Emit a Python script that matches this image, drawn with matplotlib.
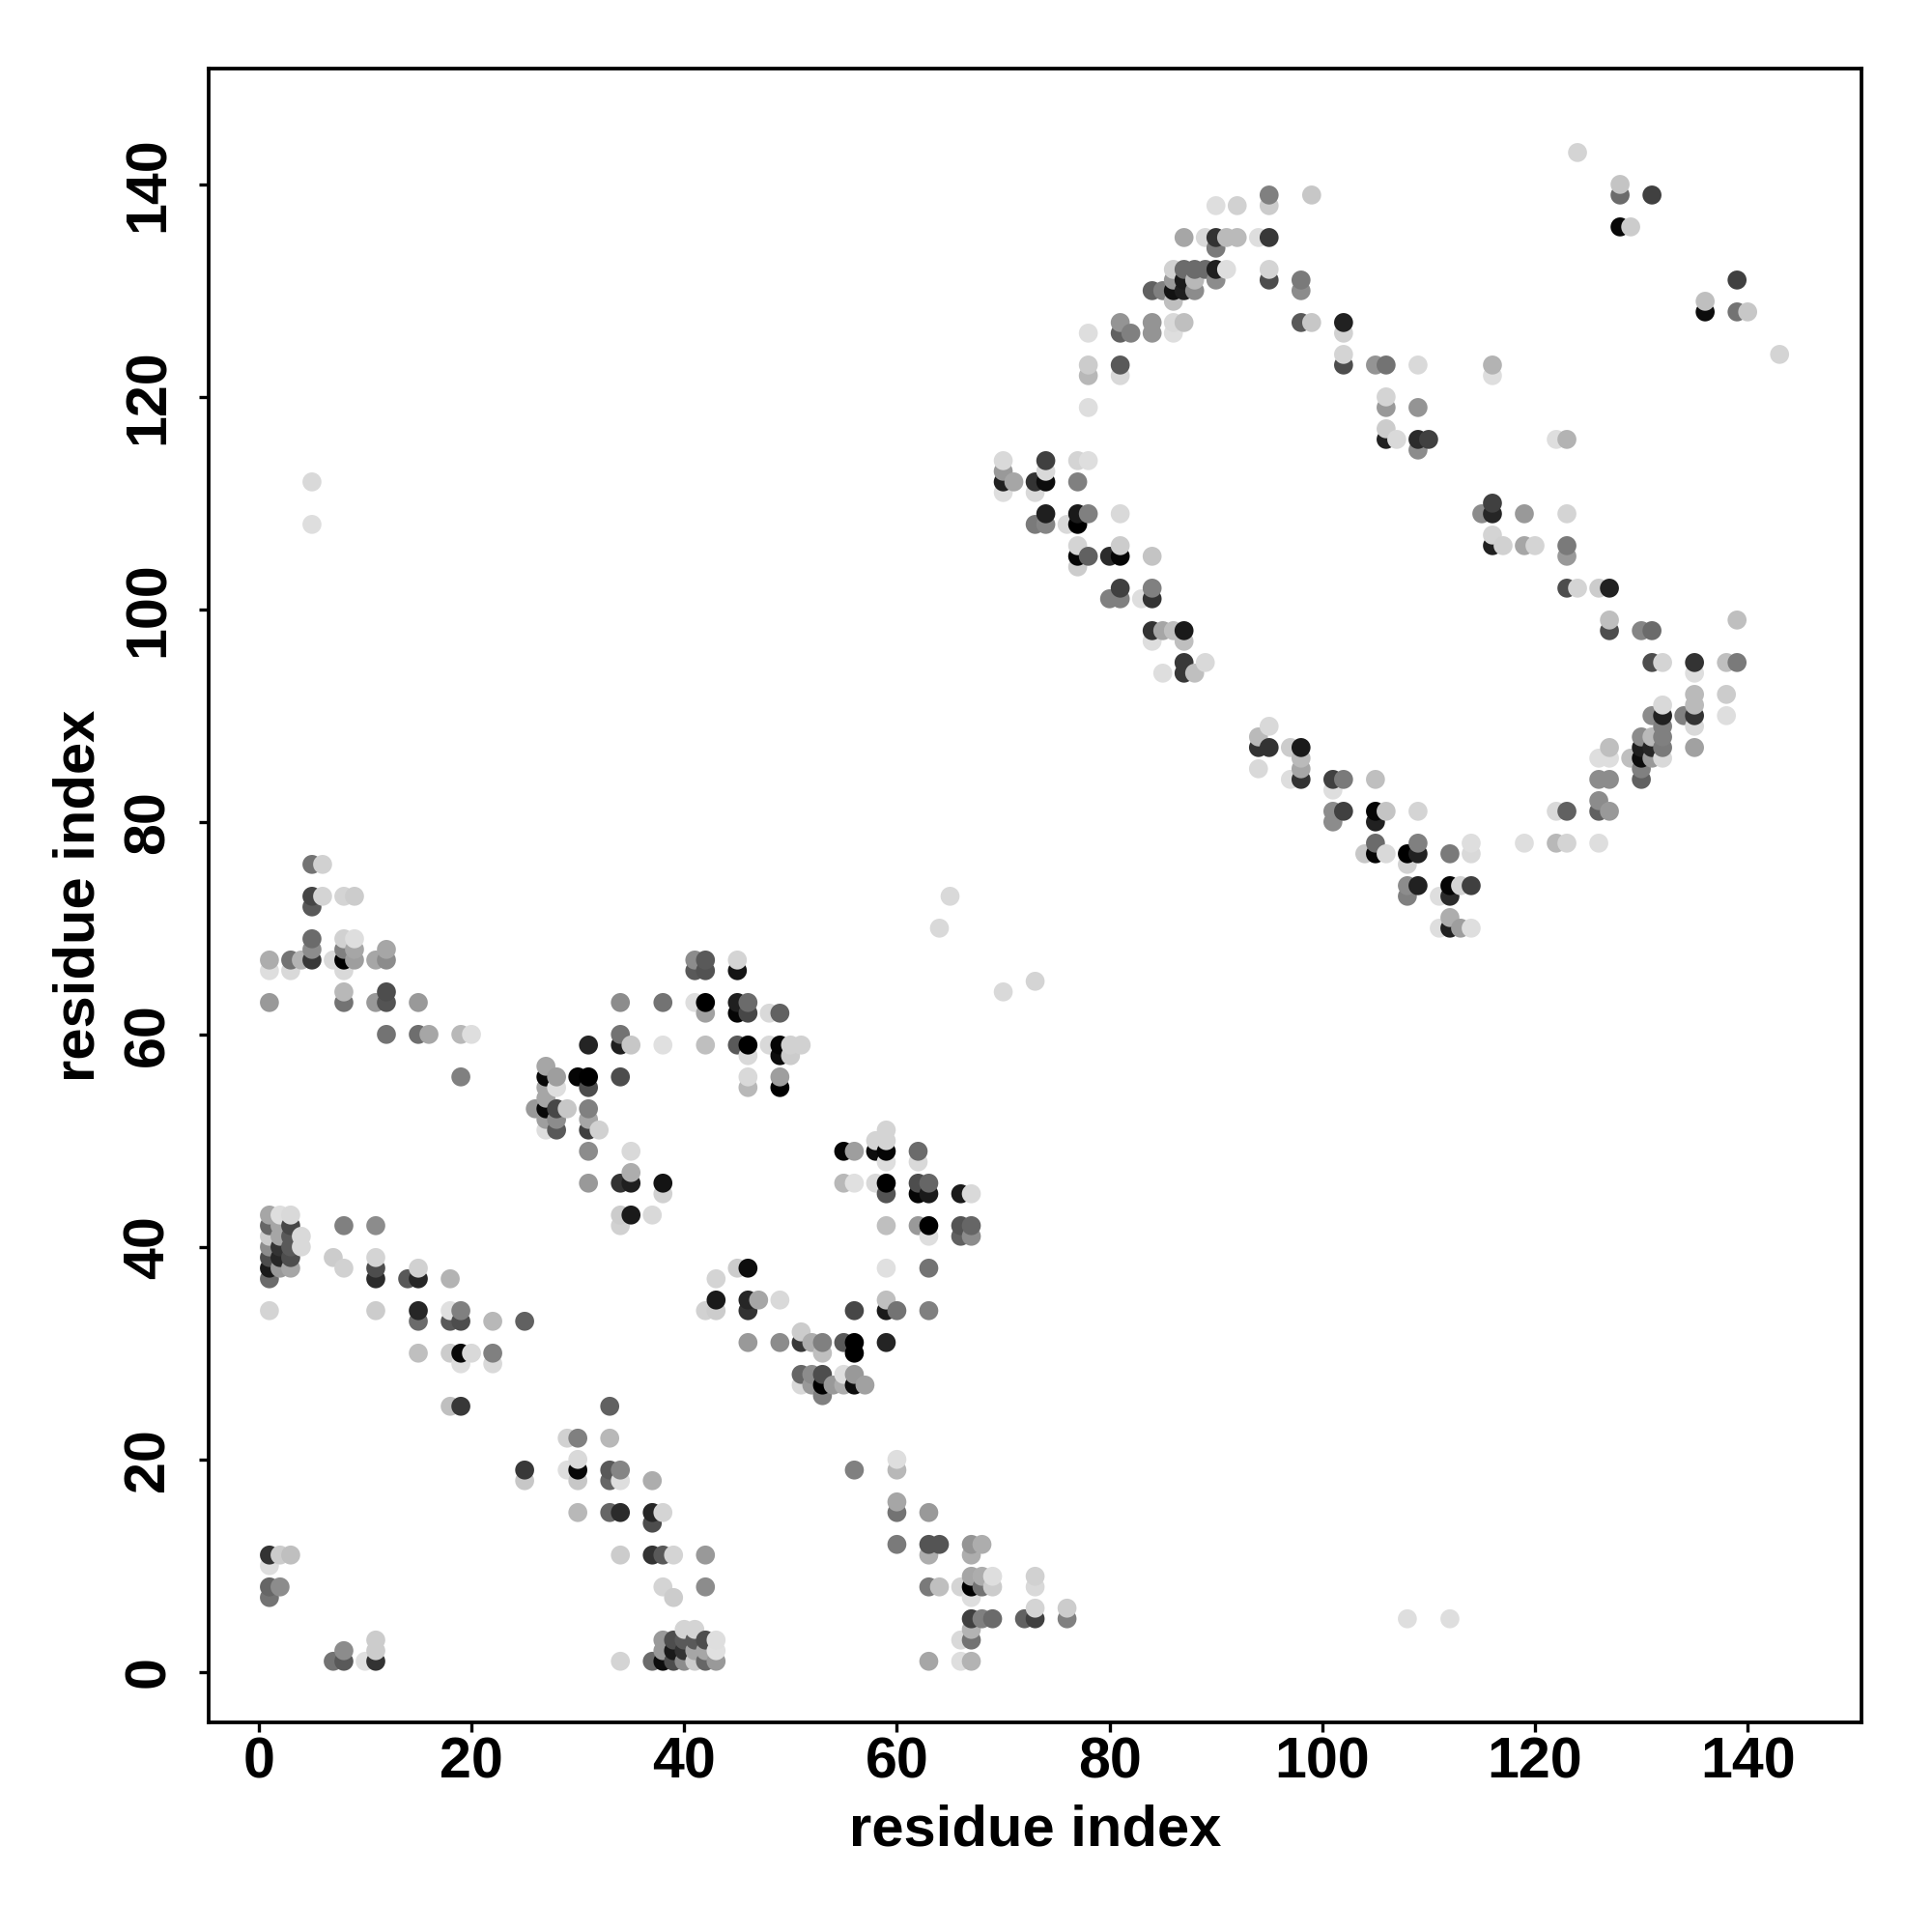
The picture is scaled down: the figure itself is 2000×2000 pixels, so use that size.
import pandas as pd
import matplotlib
matplotlib.use('Agg')
import matplotlib.pyplot as plt

# contacts as (residue x, residue y, grey level)
lower_left = [
    (7,1,.45),(8,1,.35),(10,1,.88),(11,1,.2),(8,2,.55),(11,2,.8),(11,3,.8),
    (1,7,.45),(1,8,.4),(2,8,.55),(1,10,.87),(1,11,.2),(2,11,.8),(3,11,.75),
    (15,30,.75),(18,30,.8),(19,30,.03),(20,30,.85),(22,30,.5),(19,29,.87),(22,29,.85),
    (15,33,.42),(18,33,.35),(19,33,.3),(22,33,.72),(25,33,.38),
    (1,34,.83),(11,34,.8),(15,34,.15),(18,34,.88),(19,34,.5),
    (1,37,.42),(11,37,.17),(14,37,.35),(15,37,.15),(18,37,.7),
    (1,38,.1),(2,38,.6),(3,38,.65),(8,38,.82),(11,38,.3),(15,38,.82),
    (1,39,.3),(2,39,.15),(3,39,.3),(7,39,.8),(11,39,.83),
    (1,40,.55),(2,40,.2),(3,40,.35),(4,40,.85),
    (1,41,.8),(2,41,.65),(3,41,.35),(4,41,.85),
    (1,42,.4),(2,42,.65),(3,42,.28),(8,42,.5),(11,42,.55),
    (1,43,.65),(2,43,.87),(3,43,.85),
    (18,25,.75),(19,25,.22),(25,18,.78),(25,19,.22),
]

lower_mid = [
    (34,1,.83),(37,1,.42),(38,1,.05),(39,1,.3),(40,1,.55),(41,1,.8),(42,1,.4),(43,1,.6),
    (38,2,.6),(39,2,.1),(40,2,.2),(41,2,.65),(42,2,.65),(43,2,.88),
    (38,3,.6),(39,3,.3),(40,3,.35),(41,3,.35),(42,3,.3),(43,3,.87),(40,4,.83),(41,4,.83),
    (39,7,.8),(38,8,.83),(42,8,.55),
    (34,11,.8),(37,11,.2),(38,11,.35),(39,11,.83),(42,11,.6),(37,14,.3),
    (30,15,.72),(33,15,.4),(34,15,.17),(37,15,.15),(38,15,.83),
    (30,18,.78),(33,18,.4),(34,18,.87),(37,18,.68),
    (29,19,.87),(30,19,.03),(33,19,.35),(34,19,.52),(30,20,.85),
    (29,22,.82),(30,22,.5),(33,22,.72),(33,25,.38),
    (51,27,.85),(52,27,.6),(53,27,.0),(54,27,.6),(55,27,.68),(56,27,.05),(57,27,.63),
    (53,26,.5),(51,28,.4),(52,28,.55),(53,28,.3),(55,28,.87),(56,28,.6),
    (53,30,.75),(56,30,.0),(46,31,.6),(49,31,.55),(51,31,.22),(52,31,.68),(53,31,.5),
    (55,31,.35),(56,31,.0),(59,31,.14),(51,32,.8),
    (42,34,.82),(43,34,.8),(46,34,.2),(56,34,.28),(59,34,.1),(60,34,.45),(63,34,.5),
    (43,35,.1),(46,35,.15),(47,35,.65),(49,35,.85),(59,35,.75),(43,37,.83),
    (45,38,.8),(46,38,.05),(59,38,.88),(63,38,.45),
    (63,41,.87),(66,41,.38),(67,41,.55),(59,42,.75),(62,42,.6),(63,42,.0),(66,42,.33),(67,42,.4),
    (34,42,.82),(34,43,.8),(35,43,.1),(37,43,.85),
    (59,45,.33),(62,45,.02),(63,45,.1),(66,45,.1),(67,45,.85),
    (55,46,.72),(56,46,.88),(58,46,.85),(59,46,.0),(62,46,.3),(63,46,.4),
    (59,48,.87),(62,48,.85),(55,49,.02),(56,49,.62),(58,49,.05),(59,49,.02),(62,49,.42),
    (58,50,.83),(59,50,.83),(59,51,.83),
    (56,19,.5),(60,19,.72),(60,20,.87),(60,15,.45),(63,15,.6),(60,16,.65),
    (60,12,.48),(63,12,.33),(64,12,.33),(67,12,.58),(68,12,.68),(63,11,.68),(67,11,.68),
    (67,9,.65),(68,9,.68),(69,9,.87),(73,9,.82),
    (63,8,.48),(64,8,.75),(66,8,.83),(67,8,.0),(68,8,.45),(69,8,.8),(73,8,.85),
    (67,7,.87),(73,6,.83),(76,6,.8),
    (67,5,.25),(68,5,.5),(69,5,.42),(72,5,.38),(73,5,.25),(76,5,.5),
    (67,4,.7),(66,3,.85),(67,3,.45),(63,1,.65),(66,1,.87),(67,1,.7),(108,5,.87),(112,5,.87),
]

middle = [
    (5,76,.45),(6,76,.82),(5,73,.27),(6,73,.83),(8,73,.83),(9,73,.8),(5,72,.35),
    (5,69,.42),(8,69,.82),(9,69,.87),(5,68,.55),(8,68,.5),(9,68,.65),(12,68,.65),
    (1,67,.68),(3,67,.45),(4,67,.7),(5,67,.22),(7,67,.85),(8,67,.0),(9,67,.62),(11,67,.65),(12,67,.55),
    (1,66,.87),(3,66,.85),(8,66,.85),(8,64,.72),(12,64,.3),
    (1,63,.6),(8,63,.45),(11,63,.6),(12,63,.33),(15,63,.6),
    (12,60,.45),(15,60,.43),(16,60,.65),(19,60,.72),(20,60,.87),(19,56,.5),
    (27,57,.65),(27,56,.03),(28,56,.62),(30,56,.02),(31,56,.0),(34,56,.3),
    (27,55,.65),(28,55,.87),(31,55,.3),(27,54,.65),
    (26,53,.6),(27,53,.03),(28,53,.28),(29,53,.78),(31,53,.5),
    (27,52,.62),(28,52,.55),(31,52,.65),(27,51,.87),(28,51,.35),(31,51,.25),(32,51,.82),
    (31,49,.55),(35,49,.85),(35,47,.68),(31,46,.6),(34,46,.2),(35,46,.12),(38,46,.08),(38,45,.82),
    (31,59,.14),(34,59,.12),(35,59,.78),(38,59,.88),(42,59,.75),(45,59,.35),(46,59,.0),
    (48,59,.85),(49,59,.02),(50,59,.82),(51,59,.82),(34,60,.45),
    (41,67,.55),(42,67,.35),(45,67,.83),(41,66,.35),(42,66,.32),(45,66,.08),
    (34,63,.55),(38,63,.45),(41,63,.87),(42,63,.0),(45,63,.12),(46,63,.42),
    (42,62,.63),(45,62,.02),(46,62,.28),(48,62,.85),(49,62,.38),
    (46,58,.85),(49,58,.05),(50,58,.8),(46,56,.85),(49,56,.62),(46,55,.72),(49,55,.0),
    (64,70,.85),(65,73,.85),(70,64,.85),(73,65,.83),(5,108,.87),(5,112,.85),
]

upper_left = [
    (95,139,.5),(99,139,.78),(90,138,.87),(92,138,.82),(95,138,.8),
    (87,135,.65),(89,135,.85),(90,135,.2),(91,135,.73),(92,135,.73),(94,135,.87),(95,135,.22),(90,134,.48),
    (86,132,.82),(87,132,.42),(88,132,.42),(89,132,.42),(90,132,.12),(91,132,.87),(95,132,.83),
    (86,131,.6),(87,131,.1),(88,131,.72),(90,131,.55),(95,131,.3),(98,131,.48),
    (84,130,.38),(85,130,.5),(86,130,.07),(87,130,.12),(88,130,.55),(98,130,.55),(86,129,.75),
    (81,127,.58),(84,127,.58),(86,127,.85),(87,127,.75),(98,127,.35),(99,127,.78),(102,127,.13),
    (78,126,.87),(81,126,.38),(82,126,.5),(84,126,.58),(86,126,.87),(102,126,.82),(102,124,.83),
    (78,123,.8),(81,123,.35),(102,123,.3),(105,123,.58),(106,123,.45),(109,123,.85),
    (78,122,.72),(81,122,.85),(106,120,.83),(78,119,.87),(106,119,.6),(109,119,.58),(106,117,.8),
    (106,116,.13),(107,116,.85),(109,116,.17),(110,116,.25),(109,115,.55),
    (70,114,.85),(74,114,.25),(77,114,.83),(78,114,.87),(70,113,.6),(74,113,.85),
    (70,112,.13),(71,112,.65),(73,112,.2),(74,112,.05),(77,112,.5),(70,111,.87),(73,111,.85),
    (74,109,.12),(77,109,.1),(78,109,.5),(81,109,.85),
    (73,108,.48),(74,108,.52),(76,108,.85),(77,108,.0),(77,106,.83),(81,106,.8),
    (77,105,.02),(78,105,.38),(80,105,.17),(81,105,.02),(84,105,.77),(77,104,.8),
    (81,102,.25),(84,102,.5),(80,101,.5),(81,101,.5),(83,101,.87),(84,101,.2),
    (84,98,.2),(85,98,.65),(86,98,.75),(87,98,.1),(84,97,.87),(87,97,.75),
    (87,95,.22),(89,95,.85),(85,94,.87),(87,94,.22),(88,94,.75),
]

lower_right = [
    (95,89,.85),(94,88,.73),(94,87,.2),(95,87,.2),(97,87,.8),(98,87,.1),(98,86,.73),
    (94,85,.85),(98,85,.65),(97,84,.87),(98,84,.2),(101,84,.25),(102,84,.48),(105,84,.75),(101,83,.87),
    (101,81,.55),(102,81,.25),(105,81,.02),(106,81,.77),(109,81,.83),(101,80,.55),(105,80,.13),
    (105,78,.42),(109,78,.5),(114,78,.87),(119,78,.87),(122,78,.72),(123,78,.83),(126,78,.87),
    (104,77,.78),(105,77,.02),(106,77,.85),(108,77,.0),(109,77,.13),(112,77,.48),(114,77,.85),(108,76,.82),
    (108,74,.55),(109,74,.13),(112,74,.02),(113,74,.83),(114,74,.25),(108,73,.5),(111,73,.87),(112,73,.17),
    (112,71,.68),(111,70,.87),(112,70,.13),(113,70,.62),(114,70,.87),
    (122,81,.85),(123,81,.38),(126,81,.38),(127,81,.6),(126,82,.55),
    (126,84,.55),(127,84,.55),(130,84,.38),(130,85,.5),
    (126,86,.87),(127,86,.87),(129,86,.75),(130,86,.05),(131,86,.6),(132,86,.85),
    (127,87,.75),(130,87,.12),(131,87,.15),(132,87,.48),(135,87,.63),
    (130,88,.55),(131,88,.73),(132,88,.5),(132,89,.5),(135,89,.85),
]

upper_right = [
    (124,143,.83),(128,140,.77),(128,139,.42),(131,139,.25),(128,136,.03),(129,136,.8),
    (139,131,.25),(136,129,.75),(136,128,.05),(139,128,.45),(140,128,.78),(143,124,.83),
    (116,123,.7),(116,122,.87),(122,116,.87),(123,116,.7),
    (116,110,.25),(115,109,.55),(116,109,.15),(119,109,.6),(123,109,.83),(116,107,.83),
    (116,106,.13),(117,106,.82),(119,106,.65),(120,106,.83),(123,106,.48),(123,105,.6),
    (123,102,.3),(124,102,.83),(126,102,.8),(127,102,.13),(127,99,.75),(139,99,.75),
    (127,98,.3),(130,98,.52),(131,98,.42),(131,95,.3),(132,95,.83),(135,95,.2),(138,95,.75),(139,95,.48),
    (135,94,.87),(135,92,.73),(138,92,.8),(132,91,.85),(135,91,.73),
    (131,90,.55),(132,90,.13),(134,90,.5),(135,90,.2),(138,90,.87),
]

ticks = [0, 20, 40, 60, 80, 100, 120, 140]

df = pd.DataFrame(lower_left + lower_mid + middle + upper_left + lower_right + upper_right,
                  columns=['x', 'y', 'grey'])
df = df.drop_duplicates(['x', 'y']).sort_values(['x', 'y'])

plt.rcParams['font.family'] = ['Liberation Sans', 'DejaVu Sans']
plt.rcParams['font.weight'] = 'bold'

fig = plt.figure(figsize=(10, 10), dpi=200)
ax = fig.add_axes([0.1078, 0.1085, 0.8557, 0.856])

ax.scatter(df.x, df.y, c=df.grey.map(lambda g: str(g)), s=50, linewidths=0, zorder=2)

ax.set_xlim(-4.75, 150.7)
ax.set_ylim(-4.75, 150.9)
ax.set_xticks(ticks)
ax.set_yticks(ticks)
ax.tick_params(length=3.7, width=1.2, labelsize=21.3)
ax.tick_params(axis='x', pad=1.6)
ax.tick_params(axis='y', pad=8.5)
plt.setp(ax.get_yticklabels(), rotation=90, va='center')
for s in ax.spines.values():
    s.set_linewidth(1.35)

ax.set_xlabel('residue index', fontsize=21.5, fontweight='bold', labelpad=5.4)
ax.set_ylabel('residue index', fontsize=21.5, fontweight='bold', labelpad=6.2)

fig.savefig('out.png', dpi=200)
